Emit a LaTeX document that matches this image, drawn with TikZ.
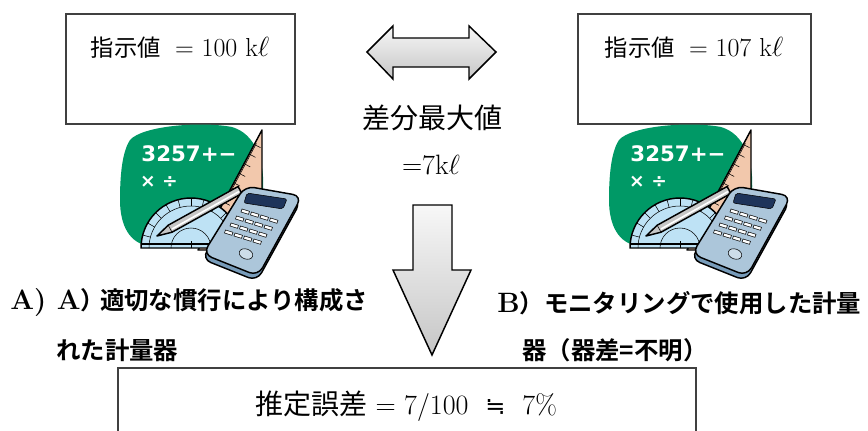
\documentclass[tikz,border=0pt]{standalone}
\usepackage{fontspec}
\newfontfamily\jp{Noto Sans CJK JP}[BoldFont={Noto Sans CJK JP Bold}]
\newfontfamily\calcfont{DejaVu Sans}
\usepackage{tikz}
\usetikzlibrary{positioning}

\definecolor{boardgreen}{RGB}{0,153,102}
\definecolor{rulerpeach}{RGB}{242,200,172}
\definecolor{protblue}{RGB}{190,226,245}
\definecolor{calcbody}{RGB}{172,198,218}
\definecolor{calcside}{RGB}{120,156,186}
\definecolor{screenblue}{RGB}{30,52,90}

% calculator clipart, #1 = name prefix
\newcommand{\calcart}[1]{%
  % green board
  \fill[boardgreen] (130,140) .. controls (142,126) and (200,121) .. (232,127)
    .. controls (256,134) and (265,162) .. (263,192) -- (263,232) -- (150,246)
    .. controls (130,244) and (120,226) .. (120,200)
    .. controls (120,176) and (122,152) .. (130,140) -- cycle;
  \node[calcdigits] (#1digits) at (189,154) {3257+−};
  \node[calcsigns] (#1signs) at (159,182) {× ÷};
  % set square
  \filldraw[fill=rulerpeach, clipline] (262,130) -- (262,250) -- (198,250) -- cycle;
  \draw[thin] (256.4,143.4) -- (226,200.5);
  \foreach \t in {0.12,0.2,...,0.6}
    \draw[thin] ({262-64*\t},{130+120*\t}) -- ++(6.2,3.3);
  % protractor
  \filldraw[fill=protblue, clipline] (141,248) arc[start angle=180, end angle=360, radius=50] -- cycle;
  \draw[thin] (149,248) arc[start angle=180, end angle=360, radius=42];
  \foreach \a in {195,210,...,345}
    \draw[thin] ({191+42*cos(\a)},{248+42*sin(\a)}) -- ({191+50*cos(\a)},{248+50*sin(\a)});
  \draw[thin] (171,248) arc[start angle=180, end angle=360, radius=20];
  \draw[clipline] (141,244) -- (241,244);
  \draw[thin] (191,248) -- (191,241);
  % pen
  \filldraw[fill=gray!45, clipline] (157,236) -- (172,232.2) -- (241.9,193.5)
    -- (238.1,186.5) -- (168.2,225.2) -- cycle;
  \draw[white, line width=1.2pt] (172,229) -- (239,191.5);
  \draw[thin] (172,232.2) -- (168.2,225.2);
  % calculator
  \filldraw[fill=calcside, clipline, rounded corners=7] (244,191) -- (301,201)
    -- (257,281) -- (202,259) -- cycle;
  \filldraw[fill=calcbody, clipline, rounded corners=7] (245,186) -- (302,196)
    -- (258,276) -- (203,254) -- cycle;
  \filldraw[fill=screenblue, draw=black, rounded corners=1.5] (247,193) -- (287,199)
    -- (283,209) -- (244,203) -- cycle;
  \foreach \r in {0,...,3}
    \foreach \c in {0,...,3}
      \filldraw[fill=white, draw=black, line width=0.4pt]
        ({242+9.5*\c-5.5*\r},{209+3*\c+7*\r}) -- ++(7.5,2.3) -- ++(-1,3)
        -- ++(-7.5,-2.3) -- cycle;
  \filldraw[fill=calcbody!60, draw=black, rotate around={-20:(246,254)}]
    (246,254) ellipse [x radius=7, y radius=5];
}

\begin{document}
\begin{tikzpicture}[x=0.75pt, y=-0.75pt,
  valuebox/.style={draw=black!75, line width=1.1pt, fill=white, inner sep=0pt},
  valuetext/.style={inner sep=0pt, font=\fontsize{19.5}{22}\selectfont},
  midtext/.style={inner sep=0pt, font=\fontsize{21}{25}\selectfont},
  labeltext/.style={inner sep=0pt, anchor=west, font=\fontsize{18.3}{22}\selectfont\bfseries},
  resulttext/.style={inner sep=0pt, font=\fontsize{21}{25}\selectfont},
  calcdigits/.style={inner sep=0pt, text=white, font=\calcfont\bfseries\fontsize{16}{18}\selectfont},
  calcsigns/.style={inner sep=0pt, text=white, font=\calcfont\bfseries\fontsize{14}{16}\selectfont},
  clipline/.style={draw=black, line width=1.1pt, line join=round},
  arrowshade/.style={top color=gray!6, bottom color=gray!45, draw=black, line width=1.1pt, line join=miter}]

\useasboundingbox (0,0) rectangle (868,430);
\clip (0,0) rectangle (868,430);

% value boxes
\node[valuebox, minimum width=171.75pt, minimum height=82.5pt] (boxA) at (180.5,69) {};
\node[valuetext] (valueA) at (180,48) {{\jp\fontsize{17.5}{21}\selectfont 指示値}\hspace{0.55em}= 100 k$\ell$};
\node[valuebox, minimum width=174.75pt, minimum height=82.5pt] (boxB) at (694.5,69) {};
\node[valuetext] (valueB) at (694,48) {{\jp\fontsize{17.5}{21}\selectfont 指示値}\hspace{0.55em}= 107 k$\ell$};

% clipart
\calcart{A}
\begin{scope}[shift={(489,0)}]
  \calcart{B}
\end{scope}

% difference
\shade[arrowshade] (367,52) -- (393,26) -- (393,38) -- (469,38) -- (469,26) -- (496,52)
  -- (469,79) -- (469,67) -- (393,67) -- (393,79) -- cycle;
\node[midtext] (difflabel) at (432,118) {\jp 差分最大値};
\node[midtext] (diffvalue) at (431,165) {=7k$\ell$};

% down arrow
\shade[arrowshade] (413,205) -- (452,205) -- (452,270) -- (471,270) -- (432,355)
  -- (393,270) -- (413,270) -- cycle;

% labels
\node[labeltext] (labelA) at (10,303) {{\fontsize{21}{22}\selectfont A)\ A}{\jp ）\hspace{-0.2em}適切な慣行により構成さ}};
\node[labeltext] (labelAcont) at (56,350) {\jp れた計量器};
\node[labeltext] (labelB) at (497,303) {{\fontsize{21}{22}\selectfont B}{\jp ）モニタリングで使用した計量}};
\node[labeltext] (labelBcont) at (522,350) {\jp 器（器差=不明）};

% result
\node[valuebox, minimum width=433.5pt, minimum height=76.5pt] (resultbox) at (407,419) {};
\node[resulttext] (estimate) at (406,406) {{\jp 推定誤差} = 7/100\ \ {\calcfont\fontsize{18}{22}\selectfont ≒}\ \ 7\%};
\end{tikzpicture}
\end{document}
